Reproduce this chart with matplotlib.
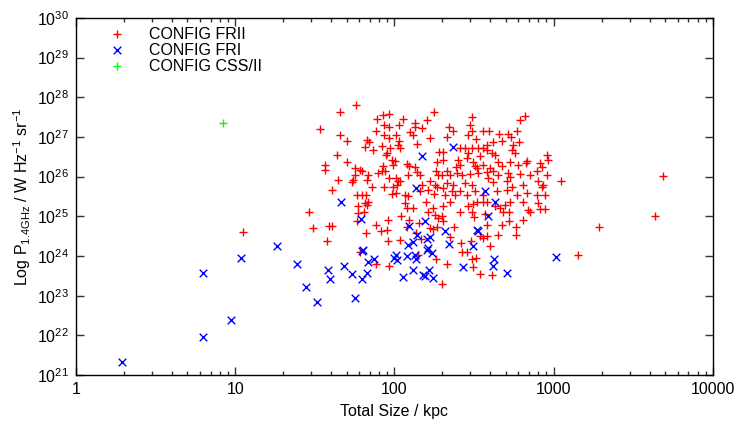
import numpy as np
import matplotlib
matplotlib.use("Agg")
import matplotlib.pyplot as plt
from matplotlib.ticker import LogLocator, NullLocator, FixedLocator

plt.rcParams['font.family'] = ['Liberation Sans', 'DejaVu Sans']
plt.rcParams['mathtext.default'] = 'regular'

# log10(total size / kpc), log10(P_1.4GHz / W Hz^-1 sr^-1)
fr2_upper = np.array([
    [1.756, 27.81], [1.660, 27.64], [1.532, 27.19], [1.658, 27.05], [1.704, 26.89],
    [1.892, 27.46], [1.930, 27.56], [1.965, 27.57], [2.055, 27.45], [1.936, 27.30],
    [1.968, 27.25], [2.030, 27.29], [2.131, 27.34], [2.131, 27.26], [2.175, 27.22],
    [2.202, 27.43], [2.248, 27.64], [1.884, 27.16], [1.934, 27.05], [2.009, 27.05],
    [1.965, 26.97], [2.030, 26.91], [2.097, 27.12], [2.118, 27.05], [2.223, 26.97],
    [2.143, 26.82], [1.825, 26.93], [1.840, 26.88], [1.817, 26.74], [1.867, 26.67],
    [1.924, 26.78], [1.972, 26.73], [2.024, 26.80], [2.035, 26.72], [1.951, 26.59],
    [1.947, 26.55], [1.637, 26.55], [1.564, 26.30], [1.564, 26.17], [1.700, 26.38],
    [1.752, 26.21], [1.783, 26.17], [1.794, 26.13], [1.836, 26.05], [1.752, 26.05],
    [1.741, 25.92], [1.731, 25.86], [1.643, 25.92], [1.605, 25.67], [1.898, 26.09],
    [1.919, 26.15], [1.940, 26.13], [1.926, 26.28], [1.982, 26.42], [2.003, 26.40],
    [1.993, 26.30], [2.076, 26.31], [2.093, 26.28], [2.129, 26.25], [2.139, 26.11],
    [2.160, 26.05], [2.083, 26.05], [1.968, 25.96], [2.009, 25.96], [2.020, 25.88],
    [2.035, 25.89], [2.018, 25.79], [1.993, 25.75], [1.934, 25.75], [1.857, 25.75],
    [1.829, 25.92], [1.762, 25.54], [1.794, 25.54], [1.821, 25.54], [1.982, 25.56],
    [2.009, 25.58], [2.066, 25.54], [2.087, 25.50], [2.171, 25.79], [2.160, 25.63],
    [2.212, 25.67], [2.223, 25.88], [2.254, 25.79], [2.265, 25.75], [2.248, 25.56],
    [2.275, 26.05], [2.265, 26.38], [2.279, 26.63], [2.258, 26.15],
])

fr2_right = np.array([
    [2.489, 27.50], [2.474, 27.30], [2.344, 27.24], [2.369, 27.14], [2.332, 26.99],
    [2.464, 27.05], [2.485, 27.15], [2.512, 26.94], [2.554, 27.14], [2.596, 27.14],
    [2.658, 27.07], [2.715, 27.07], [2.729, 26.99], [2.771, 27.15], [2.788, 27.43],
    [2.819, 27.54], [2.673, 26.90], [2.621, 26.88], [2.579, 26.80], [2.526, 26.72],
    [2.485, 26.73], [2.443, 26.72], [2.411, 26.73], [2.558, 26.73], [2.579, 26.67],
    [2.610, 26.59], [2.631, 26.55], [2.537, 26.51], [2.464, 26.59], [2.453, 26.46],
    [2.401, 26.42], [2.411, 26.30], [2.386, 26.25], [2.495, 26.38], [2.505, 26.28],
    [2.520, 26.21], [2.558, 26.30], [2.600, 26.21], [2.652, 26.38], [2.673, 26.28],
    [2.725, 26.38], [2.757, 26.59], [2.784, 26.88], [2.746, 26.80], [2.736, 26.68],
    [2.778, 26.30], [2.826, 26.34], [2.834, 26.40], [2.914, 26.34], [2.955, 26.55],
    [2.966, 26.42], [2.924, 26.25], [2.893, 26.13], [2.955, 26.05], [3.043, 25.89],
    [2.307, 26.63], [2.307, 26.42], [2.328, 26.13], [2.296, 26.05], [2.349, 26.05],
    [2.390, 26.09], [2.422, 26.05], [2.474, 26.06], [2.526, 26.09], [2.579, 26.11],
    [2.621, 26.13], [2.652, 26.05], [2.715, 26.09], [2.725, 26.00], [2.788, 26.06],
    [2.851, 26.05], [2.589, 25.96], [2.621, 25.86], [2.704, 25.88], [2.736, 25.75],
    [2.809, 25.79], [2.903, 25.89], [2.935, 25.78], [2.485, 25.79], [2.443, 25.84],
    [2.369, 25.79], [2.328, 25.84], [2.307, 25.71], [2.359, 25.63], [2.411, 25.63],
    [2.453, 25.54], [2.505, 25.63], [2.558, 25.54], [2.642, 25.63], [2.704, 25.67],
    [2.767, 25.54], [2.830, 25.58], [2.945, 25.54], [2.893, 25.54], [2.317, 25.54],
    [2.380, 25.54], [2.924, 25.75],
])

fr2_lower = np.array([
    [1.773, 25.27], [1.815, 25.33], [1.836, 25.37], [1.825, 25.29], [1.808, 25.12],
    [1.773, 25.08], [1.762, 24.87], [1.465, 25.12], [1.490, 24.70], [1.574, 24.37],
    [1.591, 24.76], [1.605, 24.76], [1.821, 24.58], [1.884, 24.79], [1.913, 24.62],
    [1.955, 24.66], [1.961, 24.39], [1.957, 24.90], [2.035, 24.41], [2.041, 25.01],
    [2.066, 25.33], [2.081, 25.21], [2.118, 25.21], [2.093, 24.91], [2.156, 24.83],
    [2.198, 25.37], [2.212, 25.12], [2.244, 25.21], [2.254, 25.04], [2.223, 24.70],
    [2.244, 24.68], [2.265, 24.74], [2.135, 24.58], [2.164, 24.42], [2.150, 24.03],
    [2.261, 23.92], [2.275, 24.95], [1.968, 23.74], [1.884, 23.80], [1.783, 24.11],
    [2.076, 24.74], [1.047, 24.60],
    [2.302, 25.26], [2.349, 25.35], [2.411, 25.10], [2.464, 25.26], [2.495, 25.32],
    [2.520, 25.37], [2.558, 25.35], [2.579, 25.37], [2.485, 25.12], [2.499, 24.98],
    [2.631, 25.25], [2.662, 25.21], [2.694, 25.29], [2.725, 25.37], [2.683, 25.12],
    [2.721, 25.12], [2.809, 25.37], [2.840, 25.16], [2.851, 25.12], [2.903, 25.33],
    [2.914, 25.18], [2.945, 25.18], [2.568, 25.06], [2.296, 25.00], [2.307, 24.87],
    [2.721, 24.87], [2.809, 24.90], [2.583, 24.79], [2.673, 24.79], [2.763, 24.74],
    [2.374, 24.74], [2.349, 24.49], [2.537, 24.51], [2.579, 24.51], [2.558, 24.45],
    [2.652, 24.53], [2.763, 24.53], [2.416, 24.32], [2.478, 24.37], [2.600, 24.24],
    [2.422, 24.11], [2.457, 24.09], [2.485, 23.92], [2.512, 23.95], [2.328, 23.80],
    [2.491, 23.72], [2.537, 23.55], [2.610, 23.53], [2.296, 23.29], [3.154, 24.03],
    [3.684, 26.02], [3.636, 25.01], [3.286, 24.74],
])

fr1 = np.array([
    [0.289, 21.32], [0.798, 21.96], [0.973, 22.38], [1.442, 23.22], [1.516, 22.85],
    [1.750, 22.94], [0.796, 23.57], [1.036, 23.96], [1.260, 24.24], [1.386, 23.79],
    [1.584, 23.65], [1.595, 23.42], [1.685, 23.75], [1.735, 23.54], [1.798, 23.42],
    [1.825, 23.58], [1.836, 23.85], [1.873, 23.92], [1.794, 24.13], [1.805, 24.15],
    [1.664, 25.36], [1.790, 24.94], [2.093, 24.76], [2.139, 24.53], [2.191, 24.87],
    [2.087, 24.28], [2.118, 24.34], [2.202, 24.43], [2.223, 24.49], [2.212, 24.20],
    [2.233, 24.07], [2.202, 24.16], [2.076, 24.01], [2.129, 24.03], [2.135, 23.92],
    [2.009, 24.03], [2.018, 23.90], [1.997, 23.95], [2.055, 23.47], [2.118, 23.64],
    [2.177, 23.53], [2.219, 23.65], [2.244, 23.44], [2.191, 23.50], [2.171, 26.52],
    [2.133, 25.71], [2.369, 26.74], [2.568, 25.64], [2.585, 25.01], [2.317, 24.62],
    [2.520, 24.66], [2.526, 24.62], [2.344, 24.30], [2.491, 24.26], [2.627, 23.92],
    [2.621, 23.75], [2.432, 23.72], [2.704, 23.57], [3.014, 23.97], [2.631, 25.37],
])

css = np.array([[0.925, 27.36]])

fr2 = np.vstack([fr2_upper, fr2_right, fr2_lower])

fig = plt.figure(figsize=(7.37, 4.23), dpi=100)
ax = fig.add_axes([0.1031, 0.1135, 0.8643, 0.8440])

ax.scatter(10 ** fr2[:, 0], 10 ** fr2[:, 1], marker='+', s=40, c='#ff0000',
           linewidths=1.0, label='CONFIG FRII')
ax.scatter(10 ** fr1[:, 0], 10 ** fr1[:, 1], marker='x', s=30, c='#0000ff',
           linewidths=1.0, label='CONFIG FRI')
ax.scatter(10 ** css[:, 0], 10 ** css[:, 1], marker='+', s=40, c='#00ff00',
           linewidths=1.0, label='CONFIG CSS/II')

ax.set_xscale('log')
ax.set_yscale('log')
ax.set_xlim(1, 1e4)
ax.set_ylim(1e21, 1e30)

ax.xaxis.set_major_locator(FixedLocator([1, 10, 100, 1000, 10000]))
ax.set_xticklabels(['1', '10', '100', '1000', '10000'])
ax.xaxis.set_minor_locator(LogLocator(base=10, subs=np.arange(2, 10)))
ax.yaxis.set_major_locator(FixedLocator([10.0 ** k for k in range(21, 31)]))
ax.set_yticklabels([f'$10^{{{k}}}$' for k in range(21, 31)])
ax.yaxis.set_minor_locator(NullLocator())

ax.tick_params(which='both', direction='in', top=True, right=True,
               labelsize=11.5, width=1.0, color='#333333')
ax.tick_params(which='major', length=6, pad=5)
ax.tick_params(which='minor', length=3)
for sp in ax.spines.values():
    sp.set_linewidth(1.0)

ax.set_xlabel('Total Size / kpc', fontsize=11.5, labelpad=5)
ax.set_ylabel('Log P$_{1.4GHz}$ / W Hz$^{-1}$ sr$^{-1}$', fontsize=11.5, labelpad=3)

ax.legend(loc='upper left', bbox_to_anchor=(0.035, 1.007), frameon=False,
          fontsize=11.5, handletextpad=1.5, labelspacing=0.06, borderaxespad=0.3,
          handlelength=1.0)

fig.savefig('out.png', dpi=100)
